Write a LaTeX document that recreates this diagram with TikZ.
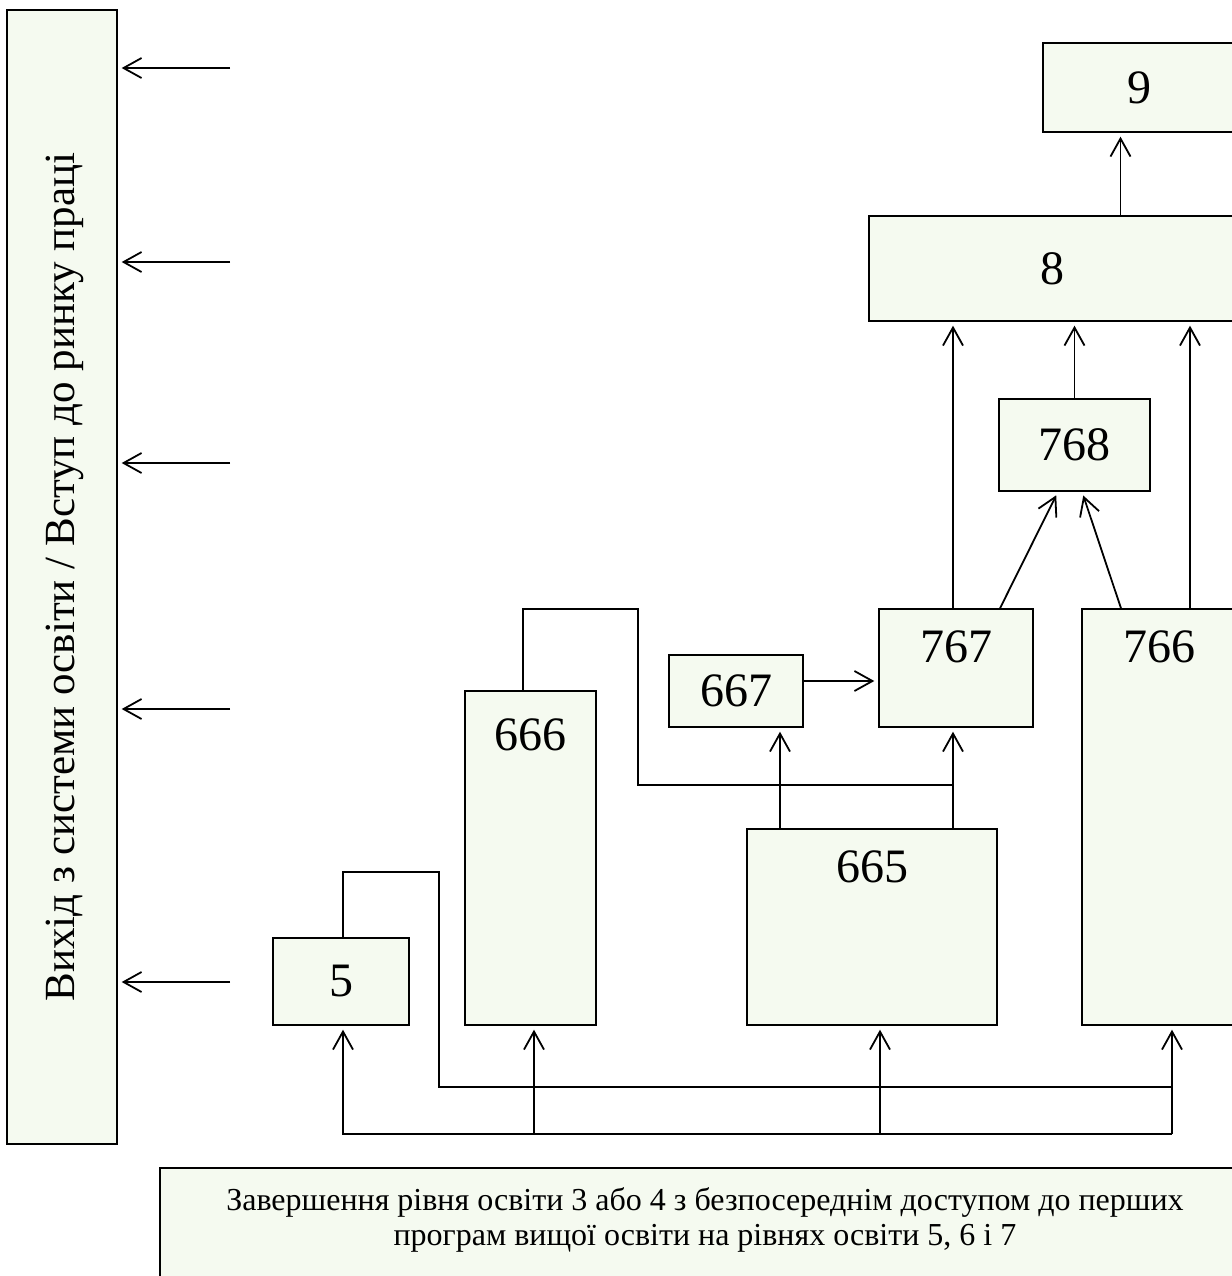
\documentclass[tikz,border=0pt]{standalone}
\usepackage{fontspec}
\setmainfont{Liberation Serif}
\usetikzlibrary{arrows.meta}
\usetikzlibrary{positioning}
\definecolor{boxfill}{RGB}{245,250,240}

\begin{document}
\begin{tikzpicture}[x=0.5pt, y=-0.5pt,
    box/.style={draw, fill=boxfill, line width=0.7pt, inner sep=0pt, font=\fontsize{24}{28}\selectfont},
    toptext/.style 2 args={label={[anchor=north, inner sep=0pt, yshift=#2, font=\fontsize{24}{28}\selectfont]north:#1}},
    line/.style={line width=0.9pt},
    arr/.style={line, -{Straight Barb[length=9pt, width=10pt]}, shorten >=2pt}]

    \useasboundingbox (0,0) rectangle (1232,1276);

    % Declare the side bar and the base
    \node[box, minimum width=55pt, minimum height=567pt,
        label={[rotate=90, anchor=center, yshift=-1.5pt, font=\fontsize{21.5}{26}\selectfont]center:Вихід з системи освіти / Вступ до ринку праці}]
        (bar) at (62,577) {};
    \node[box, minimum width=545pt, minimum height=61pt,
        label={[anchor=north, yshift=-6.5pt, align=center, font=\fontsize{16}{17.5}\selectfont]north:Завершення рівня освіти 3 або 4 з безпосереднім доступом до перших\\програм вищої освіти на рівнях освіти 5, 6 і 7}]
        (base) at (705,1229) {};

    % Declare the levels
    \node[box, minimum width=96.5pt, minimum height=44.5pt] (n9) at (1139.5,87.5) {9};
    \node[box, minimum width=183.5pt, minimum height=52.5pt] (n8) at (1052.5,268.5) {8};
    \node[box, minimum width=75.5pt, minimum height=46pt] (n768) at (1074.5,445) {768};
    \node[box, minimum width=77pt, minimum height=59pt, toptext={767}{-11pt}] (n767) at (956,668) {};
    \node[box, minimum width=77pt, minimum height=208pt, toptext={766}{-11pt}] (n766) at (1159,817) {};
    \node[box, minimum width=67pt, minimum height=36pt] (n667) at (736,691) {667};
    \node[box, minimum width=65.5pt, minimum height=167pt, toptext={666}{-14pt}] (n666) at (530.5,858) {};
    \node[box, minimum width=125pt, minimum height=98pt, toptext={665}{-11pt}] (n665) at (872,927) {};
    \node[box, minimum width=68pt, minimum height=43.5pt] (n5) at (341,981.5) {5};

    % Declare the corners
    \coordinate (j666) at (638,609);
    \coordinate (j665) at (953,785);
    \coordinate (j5) at (439,872);
    \coordinate (j766) at (1172,1087);
    \coordinate (b5) at (343,1134);
    \coordinate (b766) at (1172,1134);

    % Declare exit edges
    \foreach \y [count=\i] in {68,262,463,709,982} {
        \coordinate (s\i) at (230,\y);
        \draw[arr] (s\i) -- (s\i -| bar.east);
    }

    % Declare edges
    \draw[arr] ([xshift=34pt]n8.north) -- ([xshift=34pt]n8.north |- n9.south);
    \draw[arr] ([xshift=-1.5pt]n767.north) -- ([xshift=-1.5pt]n767.north |- n8.south);
    \draw[arr] (n768.north) -- (n768.north |- n8.south);
    \draw[arr] ([xshift=15.5pt]n766.north) -- ([xshift=15.5pt]n766.north |- n8.south);
    \draw[arr] ([xshift=22pt]n767.north) -- ([xshift=-8.25pt]n768.south);
    \draw[arr] ([xshift=-19pt]n766.north) -- ([xshift=3.75pt]n768.south);
    \draw[arr] ([yshift=5pt]n667.east) -- ([yshift=5pt]n667.east -| n767.west);
    \draw[arr] ([xshift=-46pt]n665.north) -- ([xshift=-46pt]n665.north |- n667.south);
    \draw[arr] ([xshift=40.5pt]n665.north) -- ([xshift=40.5pt]n665.north |- n767.south);
    \draw[line] ([xshift=-3.75pt]n666.north) |- (j666) |- (j665);
    \draw[line] ([xshift=1pt]n5.north) |- (j5) |- (j766);

    % Declare entry edges
    \draw[arr] (b766) -- (b5) -- (b5 |- n5.south);
    \draw[arr] (b766) -- (b766 |- n766.south);
    \draw[arr] ([xshift=1.75pt]n666.south |- b5) -- ([xshift=1.75pt]n666.south);
    \draw[arr] ([xshift=4pt]n665.south |- b5) -- ([xshift=4pt]n665.south);

\end{tikzpicture}
\end{document}
